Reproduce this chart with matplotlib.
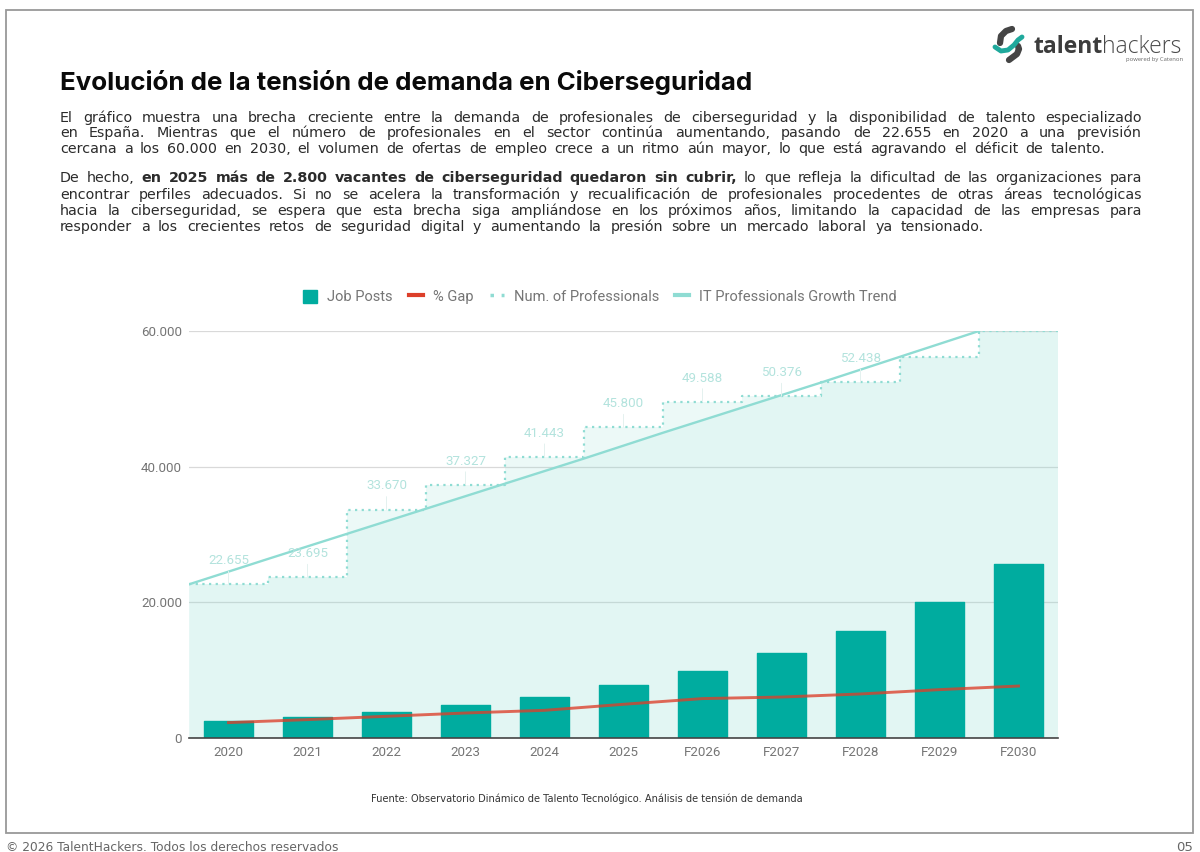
import numpy as np
import matplotlib
matplotlib.use('Agg')
import matplotlib.pyplot as plt
from matplotlib.lines import Line2D
from matplotlib.patches import Patch, Rectangle

categories = ['2020', '2021', '2022', '2023', '2024', '2025',
              'F2026', 'F2027', 'F2028', 'F2029', 'F2030']
job_posts = [2500, 3100, 3880, 4820, 6090, 7810, 9870, 12580, 15800, 20050, 25650]
gap = [2270, 2710, 3200, 3685, 4080, 4970, 5810, 6040, 6490, 7130, 7660]
professionals = [22655, 23695, 33670, 37327, 41443, 45800, 49588, 50376, 52438, 56100, 60000]
trend = [22655, 26400, 30100, 33800, 37500, 41200, 45000, 48700, 52400, 56200, 60000]
labelled = 9
y_ticks = [0, 20000, 40000, 60000]
y_tick_labels = ['0', '20.000', '40.000', '60.000']

TEAL = '#00ac9f'
RED = '#dc3f2a'
MINT = '#8fdcd3'
GREY = '#757575'

title = 'Evolución de la tensión de demanda en Ciberseguridad'
body = [
    ([('El gráfico muestra una brecha creciente entre la demanda de profesionales de ciberseguridad y la disponibilidad de talento especializado', 'normal')], 1142, 122),
    ([('en España. Mientras que el número de profesionales en el sector continúa aumentando, pasando de 22.655 en 2020 a una previsión', 'normal')], 1142, 137),
    ([('cercana a los 60.000 en 2030, el volumen de ofertas de empleo crece a un ritmo aún mayor, lo que está agravando el déficit de talento.', 'normal')], 1105, 153),
    ([('De hecho,', 'normal'), ('en 2025 más de 2.800 vacantes de ciberseguridad quedaron sin cubrir,', 'bold'),
      ('lo que refleja la dificultad de las organizaciones para', 'normal')], 1142, 182),
    ([('encontrar perfiles adecuados. Si no se acelera la transformación y recualificación de profesionales procedentes de otras áreas tecnológicas', 'normal')], 1142, 199),
    ([('hacia la ciberseguridad, se espera que esta brecha siga ampliándose en los próximos años, limitando la capacidad de las empresas para', 'normal')], 1142, 215),
    ([('responder a los crecientes retos de seguridad digital y aumentando la presión sobre un mercado laboral ya tensionado.', 'normal')], 984, 231),
]
source = 'Fuente: Observatorio Dinámico de Talento Tecnológico. Análisis de tensión de demanda'
footer = '© 2026 TalentHackers. Todos los derechos reservados'

fig = plt.figure(figsize=(12, 8.52), dpi=100, facecolor='white')
ax = fig.add_axes([189 / 1200, 1 - 738 / 852, 869 / 1200, 407 / 852])

x = np.arange(len(categories))
edges = np.arange(len(categories) + 1) - 0.5
steps = professionals + [professionals[-1]]
trend_area = trend + [trend[-1]]

# area under the steps, a bit stronger where the trend runs below them
step_fill = ax.fill_between(edges, steps, step='post', color=MINT, alpha=0.17, lw=0, zorder=1)
trend_fill = ax.fill_between(edges, trend_area, color=MINT, alpha=0.1, lw=0, zorder=1)
trend_fill.set_clip_path(step_fill.get_paths()[0], ax.transData)

ax.step(edges, steps, where='post', color=MINT, lw=1.6, ls=(0, (1, 2)), zorder=3)
ax.plot(edges[:-1], trend, color=MINT, lw=1.7, zorder=3)
ax.bar(x, job_posts, width=0.62, color=TEAL, edgecolor=TEAL, lw=1, joinstyle='round', zorder=2)
ax.plot(x, gap, color=RED, lw=2.1, alpha=0.78, zorder=4)

for i in range(labelled):
    ax.annotate(f'{professionals[i]:,}'.replace(',', '.'), (x[i], professionals[i]),
                xytext=(0, 17), textcoords='offset points', ha='center', va='center',
                family='Roboto', fontsize=9.6, color='#b3e3dd',
                arrowprops=dict(arrowstyle='-', color='#e4f1ef', lw=0.7, shrinkA=1, shrinkB=0))

ax.set_xlim(edges[0], edges[-1])
ax.set_ylim(0, 60000)
ax.set_xticks(x, categories, family='Roboto', fontsize=9.6, color=GREY)
ax.set_yticks(y_ticks, y_tick_labels, family='Roboto', fontsize=9.6, color=GREY)
ax.tick_params(length=0)
ax.tick_params(axis='x', pad=6)
ax.tick_params(axis='y', pad=5)
ax.grid(axis='y', color='#d9d9d9', lw=0.9, zorder=0)
ax.set_axisbelow(True)
for s in ['top', 'left', 'right']:
    ax.spines[s].set_visible(False)
ax.spines['bottom'].set_color('#444444')
ax.spines['bottom'].set_linewidth(1.2)

handles = [Patch(color=TEAL, label='Job Posts'),
           Line2D([], [], color=RED, lw=3, label='% Gap'),
           Line2D([], [], color=MINT, lw=2.5, ls=(0, (1, 2.2)), label='Num. of Professionals'),
           Line2D([], [], color=MINT, lw=3, label='IT Professionals Growth Trend')]
fig.legend(handles=handles, loc='center', bbox_to_anchor=(600 / 1200, 1 - 297 / 852), ncol=4,
           frameon=False, prop={'family': 'Roboto', 'size': 10.5}, labelcolor=GREY,
           handlelength=0.95, handleheight=1, handletextpad=0.7, columnspacing=1.12)

# page layer, one data unit is one pixel
page = fig.add_axes([0, 0, 1, 1], zorder=5)
page.set_xlim(0, 1200)
page.set_ylim(852, 0)
page.axis('off')
page.patch.set_alpha(0)
rend = fig.canvas.get_renderer()


def width_of(t):
    return t.get_window_extent(rend).width


def fit_text(s, x0, y0, target, size, **kw):
    t = page.text(x0, y0, s, fontsize=size, **kw)
    t.set_fontsize(size * target / width_of(t))
    return t


def justify(segments, x_end, y0, x0=60, size=10.3):
    items = []
    for seg, weight in segments:
        for w in seg.split(' '):
            items.append(page.text(x0, y0, w, fontsize=size, fontweight=weight,
                                   color='#2b2b2b', family='DejaVu Sans', va='baseline'))
    total = sum(width_of(t) for t in items)
    space = (x_end - x0 - total) / (len(items) - 1)
    pos = x0
    for t in items:
        t.set_x(pos)
        pos += width_of(t) + space


page.add_patch(Rectangle((6, 10), 1187, 823, fc='none', ec='#999999', lw=1.3))
fit_text(title, 60, 90, 694, 16, family='Inter', fontweight='bold', color='#0a0a0a', va='baseline')
for segments, x_end, y0 in body:
    justify(segments, x_end, y0)
fit_text(source, 371, 802, 433, 6.5, family='DejaVu Sans', color='#333333', va='baseline')
fit_text(footer, 6, 851, 334, 9, family='DejaVu Sans', color='#666666', va='baseline')
page.text(1193, 851, '05', fontsize=9.5, family='DejaVu Sans', color='#666666', ha='right', va='baseline')

# logo
page.plot([1000, 1001, 1006, 1012], [43, 36, 31, 29], color='#454545', lw=4.5, solid_capstyle='round')
page.plot([1009, 1017, 1019, 1018], [60, 54, 49, 46], color='#454545', lw=4.5, solid_capstyle='round')
page.plot([995, 1001, 1008, 1014, 1018, 1022], [47, 51, 50, 45, 40, 37], color='#1fa99c', lw=3.5, solid_capstyle='round')
t1 = page.text(1033, 53, 'talent', fontsize=16.5, fontweight='bold', family='Open Sans', color='#3c3c3c', va='baseline')
page.text(1033 + width_of(t1), 53, 'hackers', fontsize=16.5, family='Open Sans', fontweight='light', color='#4a4a4a', va='baseline')
page.text(1183, 61, 'powered by Catenon', fontsize=4.2, family='Open Sans', color='#666666', ha='right', va='baseline')

fig.savefig('out.png', dpi=100)
